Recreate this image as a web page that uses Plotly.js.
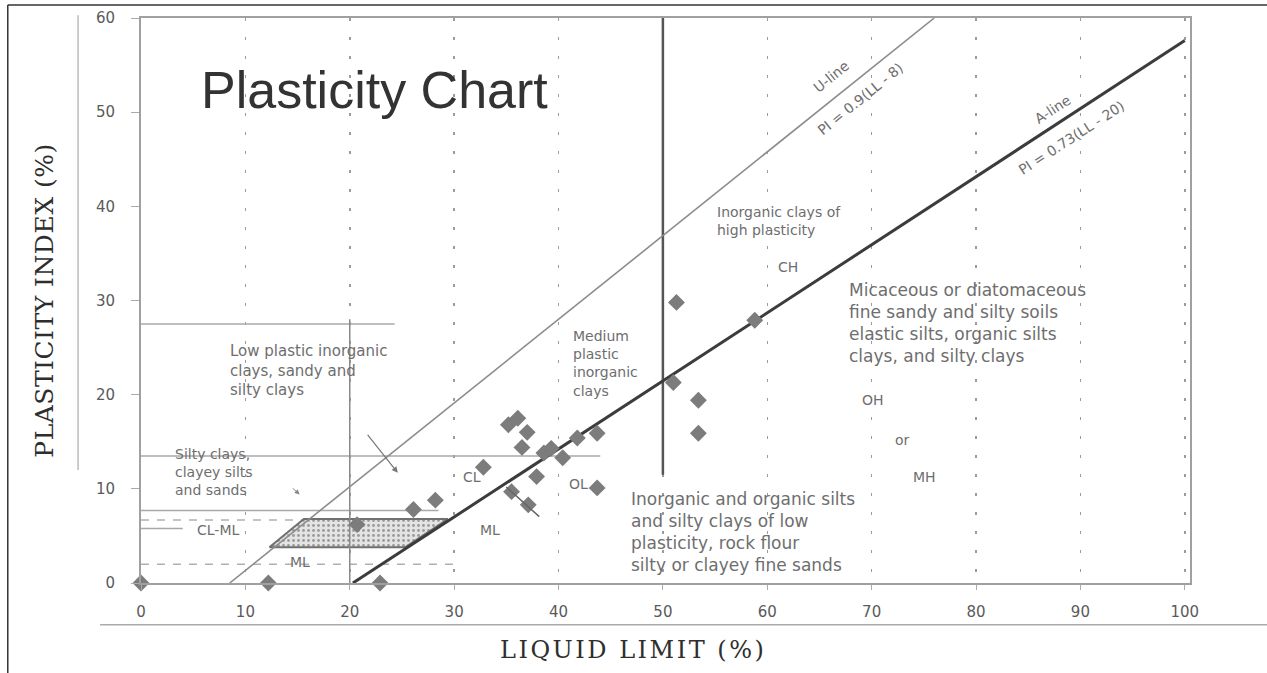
<!DOCTYPE html>
<html>
<head>
<meta charset="utf-8">
<script src="https://cdn.plot.ly/plotly-3.0.1.min.js"></script>
<style>
html,body{margin:0;padding:0;background:#fff;}
#chart{width:1267px;height:673px;}
</style>
</head>
<body>
<div id="chart"></div>
<script>
// ---------- data ----------
const xTickVals = [0, 10, 20, 30, 40, 50, 60, 70, 80, 90, 100];
const yTickVals = [0, 10, 20, 30, 40, 50, 60];

// test samples (liquid limit %, plasticity index %)
const sampleLL = [0, 12.2, 22.9, 20.7, 26.1, 28.2, 32.8, 35.2, 36.1, 37.0, 36.5, 38.6, 39.3, 40.4, 41.8, 43.7, 43.7, 37.9, 35.5, 37.1, 51.3, 51.0, 53.4, 53.4, 58.8];
const samplePI = [0, 0, 0, 6.2, 7.8, 8.8, 12.3, 16.8, 17.5, 16.0, 14.4, 13.8, 14.3, 13.3, 15.4, 15.9, 10.1, 11.3, 9.7, 8.3, 29.8, 21.3, 19.4, 15.9, 27.9];

// A-line  PI = 0.73(LL - 20)  (as drawn)
const aLineLL = [20.3, 100];
const aLinePI = [0, 57.6];
// U-line  PI = 0.9(LL - 8)  (as drawn)
const uLineLL = [8.5, 76];
const uLinePI = [0, 60];

// CL-ML hatched zone
const zoneLL = [12.3, 15.6, 29.4, 25.3, 12.3];
const zonePI = [3.8, 6.8, 6.8, 3.8, 3.8];

// vertical boundaries
const vLineLL = [50, 20];
const vLineFromPI = [11.5, 0];
const vLineToPI = [60, 28];

// horizontal boundaries (solid)
const hLinePI = [27.5, 13.5, 7.7, 5.8];
const hLineFromLL = [0, 0, 0, 0];
const hLineToLL = [24.3, 44, 28.5, 4];
// horizontal boundaries (dashed)
const hDashPI = [6.7, 2.0];
const hDashFromLL = [0, 0];
const hDashToLL = [15.4, 30];

// ---------- traces ----------
const traces = [];

for (let i = 0; i < hLinePI.length; i++) {
  traces.push({x: [hLineFromLL[i], hLineToLL[i]], y: [hLinePI[i], hLinePI[i]], mode: 'lines',
    line: {color: '#a8a8a8', width: 1.5}, hoverinfo: 'skip', showlegend: false});
}
for (let i = 0; i < hDashPI.length; i++) {
  traces.push({x: [hDashFromLL[i], hDashToLL[i]], y: [hDashPI[i], hDashPI[i]], mode: 'lines',
    line: {color: '#b0b0b0', width: 1.5, dash: '8px,8px'}, hoverinfo: 'skip', showlegend: false});
}
traces.push({x: zoneLL, y: zonePI, mode: 'lines', fill: 'toself',
  fillcolor: '#e2e2e2',
  fillpattern: {shape: '.', fgcolor: '#9a9a9a', bgcolor: '#e4e4e4', size: 5, solidity: 0.25},
  line: {color: '#707070', width: 2}, hoverinfo: 'skip', showlegend: false});
for (let i = 0; i < vLineLL.length; i++) {
  traces.push({x: [vLineLL[i], vLineLL[i]], y: [vLineFromPI[i], vLineToPI[i]], mode: 'lines',
    line: {color: i === 0 ? '#555' : '#8a8a8a', width: i === 0 ? 2.5 : 1.5}, hoverinfo: 'skip', showlegend: false});
}
traces.push({x: uLineLL, y: uLinePI, mode: 'lines', line: {color: '#8c8c8c', width: 1.6},
  hoverinfo: 'skip', showlegend: false});
traces.push({x: aLineLL, y: aLinePI, mode: 'lines', line: {color: '#3c3c3c', width: 3},
  hoverinfo: 'skip', showlegend: false});
traces.push({x: sampleLL, y: samplePI, mode: 'markers', cliponaxis: false,
  marker: {symbol: 'diamond', size: 13, color: '#7c7c7c', line: {width: 0}},
  showlegend: false});

// ---------- annotations ----------
const lf = {family: 'DejaVu Sans, Verdana, sans-serif', size: 14, color: '#6e6e6e'};
const lfBig = {family: 'DejaVu Sans, Verdana, sans-serif', size: 17, color: '#6e6e6e'};
function note(text, x, y, opts) {
  return Object.assign({text: text, x: x, y: y, xref: 'x', yref: 'y', showarrow: false,
    font: lf, xanchor: 'left', yanchor: 'middle', align: 'left'}, opts || {});
}
const xTitleText = 'LIQUID LIMIT (%)';
const yTitleText = 'PLASTICITY INDEX (%)';
const annotations = [
  note('Plasticity Chart', 5.6, 52.4, {font: {family: 'Liberation Sans, Arial, sans-serif', size: 52, color: '#333'}}),
  note('U-line', 66.2, 53.8, {xanchor: 'center', textangle: -39}),
  note('PI = 0.9(LL - 8)', 68.9, 51.4, {xanchor: 'center', textangle: -39}),
  note('A-line', 87.4, 50.3, {xanchor: 'center', textangle: -33}),
  note('PI = 0.73(LL - 20)', 89.1, 47.3, {xanchor: 'center', textangle: -33}),
  note('Inorganic clays of<br>high plasticity', 55.0, 38.4),
  note('CH', 62.0, 33.6, {xanchor: 'center'}),
  note('Micaceous or diatomaceous<br>fine sandy and silty soils<br>elastic silts, organic silts<br>clays, and silty clays', 67.6, 27.6, {font: lfBig}),
  note('OH', 70.1, 19.4, {xanchor: 'center'}),
  note('or', 73.0, 15.2, {xanchor: 'center'}),
  note('MH', 75.1, 11.3, {xanchor: 'center'}),
  note('Medium<br>plastic<br>inorganic<br>clays', 41.2, 23.3),
  note('Low plastic inorganic<br>clays, sandy and<br>silty clays', 8.3, 22.6, {font: Object.assign({}, lf, {size: 15})}),
  note('Silty clays,<br>clayey silts<br>and sands', 3.1, 11.8),
  note('CL-ML', 7.4, 5.6, {xanchor: 'center'}),
  note('ML', 15.2, 2.2, {xanchor: 'center'}),
  note('CL', 31.7, 11.3, {xanchor: 'center'}),
  note('ML', 33.4, 5.6, {xanchor: 'center'}),
  note('OL', 41.9, 10.5, {xanchor: 'center'}),
  note('Inorganic and organic silts<br>and silty clays of low<br>plasticity, rock flour<br>silty or clayey fine sands', 46.8, 5.4, {font: lfBig}),
  // leader arrows
  {x: 24.6, y: 11.7, ax: 21.6, ay: 15.9, xref: 'x', yref: 'y', axref: 'x', ayref: 'y', text: '',
    showarrow: true, arrowhead: 2, arrowsize: 1, arrowwidth: 1.2, arrowcolor: '#777'},
  {x: 15.2, y: 9.4, ax: 14.4, ay: 10.2, xref: 'x', yref: 'y', axref: 'x', ayref: 'y', text: '',
    showarrow: true, arrowhead: 2, arrowsize: 1, arrowwidth: 1, arrowcolor: '#888'},
  {x: 35.0, y: 10.2, ax: 38.3, ay: 6.9, xref: 'x', yref: 'y', axref: 'x', ayref: 'y', text: '',
    showarrow: true, arrowhead: 0, arrowwidth: 1.5, arrowcolor: '#666'},
  // x-axis title
  {text: xTitleText, xref: 'paper', yref: 'paper', x: 0.469, y: -0.119, showarrow: false,
    xanchor: 'center', yanchor: 'middle',
    font: {family: 'DejaVu Serif, Liberation Serif, serif', size: 24, color: '#2e2e2e'}}
];

// ---------- layout ----------
const tickFont = {family: 'DejaVu Sans, Verdana, sans-serif', size: 15, color: '#5a5a5a'};
const layout = {
  width: 1267, height: 673,
  margin: {l: 141, r: 77, t: 18, b: 90},
  paper_bgcolor: '#fff', plot_bgcolor: '#fff',
  showlegend: false,
  xaxis: {
    range: [0, 100.5], tickvals: xTickVals, ticktext: xTickVals.map(String),
    showgrid: true, gridcolor: '#9c9c9c', gridwidth: 1.5, griddash: '3px,16px',
    zeroline: false, showline: true, linecolor: '#a0a0a0', linewidth: 2, mirror: true,
    ticks: 'outside', ticklen: 5, tickcolor: '#aaa', ticklabelstandoff: 9,
    tickfont: tickFont
  },
  yaxis: {
    range: [0, 60], tickvals: yTickVals, ticktext: yTickVals.map(String),
    showgrid: false, zeroline: false, showline: true, linecolor: '#a0a0a0', linewidth: 2, mirror: true,
    ticks: 'outside', ticklen: 8, tickcolor: '#aaa', ticklabelstandoff: 13,
    tickfont: tickFont,
    title: {text: yTitleText, standoff: 35,
      font: {family: 'DejaVu Serif, Liberation Serif, serif', size: 25, color: '#2e2e2e'}}
  },
  annotations: annotations,
  shapes: [
    // scan frame
    {type: 'line', xref: 'paper', yref: 'paper', x0: -0.127, x1: 1.08, y0: 1.023, y1: 1.023, line: {color: '#333', width: 1.5}},
    {type: 'line', xref: 'paper', yref: 'paper', x0: -0.127, x1: -0.127, y0: 1.023, y1: -0.17, line: {color: '#333', width: 1.5}},
    {type: 'line', xref: 'paper', yref: 'paper', x0: -0.039, x1: 1.08, y0: -0.074, y1: -0.074, line: {color: '#aaa', width: 1.5}},
    {type: 'line', xref: 'paper', yref: 'paper', x0: -0.06, x1: -0.06, y0: 1.005, y1: 0.2, line: {color: '#bbb', width: 1.5}}
  ]
};

function widenTitles() {
  document.querySelectorAll('#chart text').forEach(function (t) {
    if (t.textContent === xTitleText) t.style.letterSpacing = '2.5px';
    if (t.textContent === yTitleText) t.style.letterSpacing = '0.5px';
  });
}
Plotly.newPlot('chart', traces, layout, {displayModeBar: false, staticPlot: true}).then(widenTitles);
widenTitles();
</script>
</body>
</html>
